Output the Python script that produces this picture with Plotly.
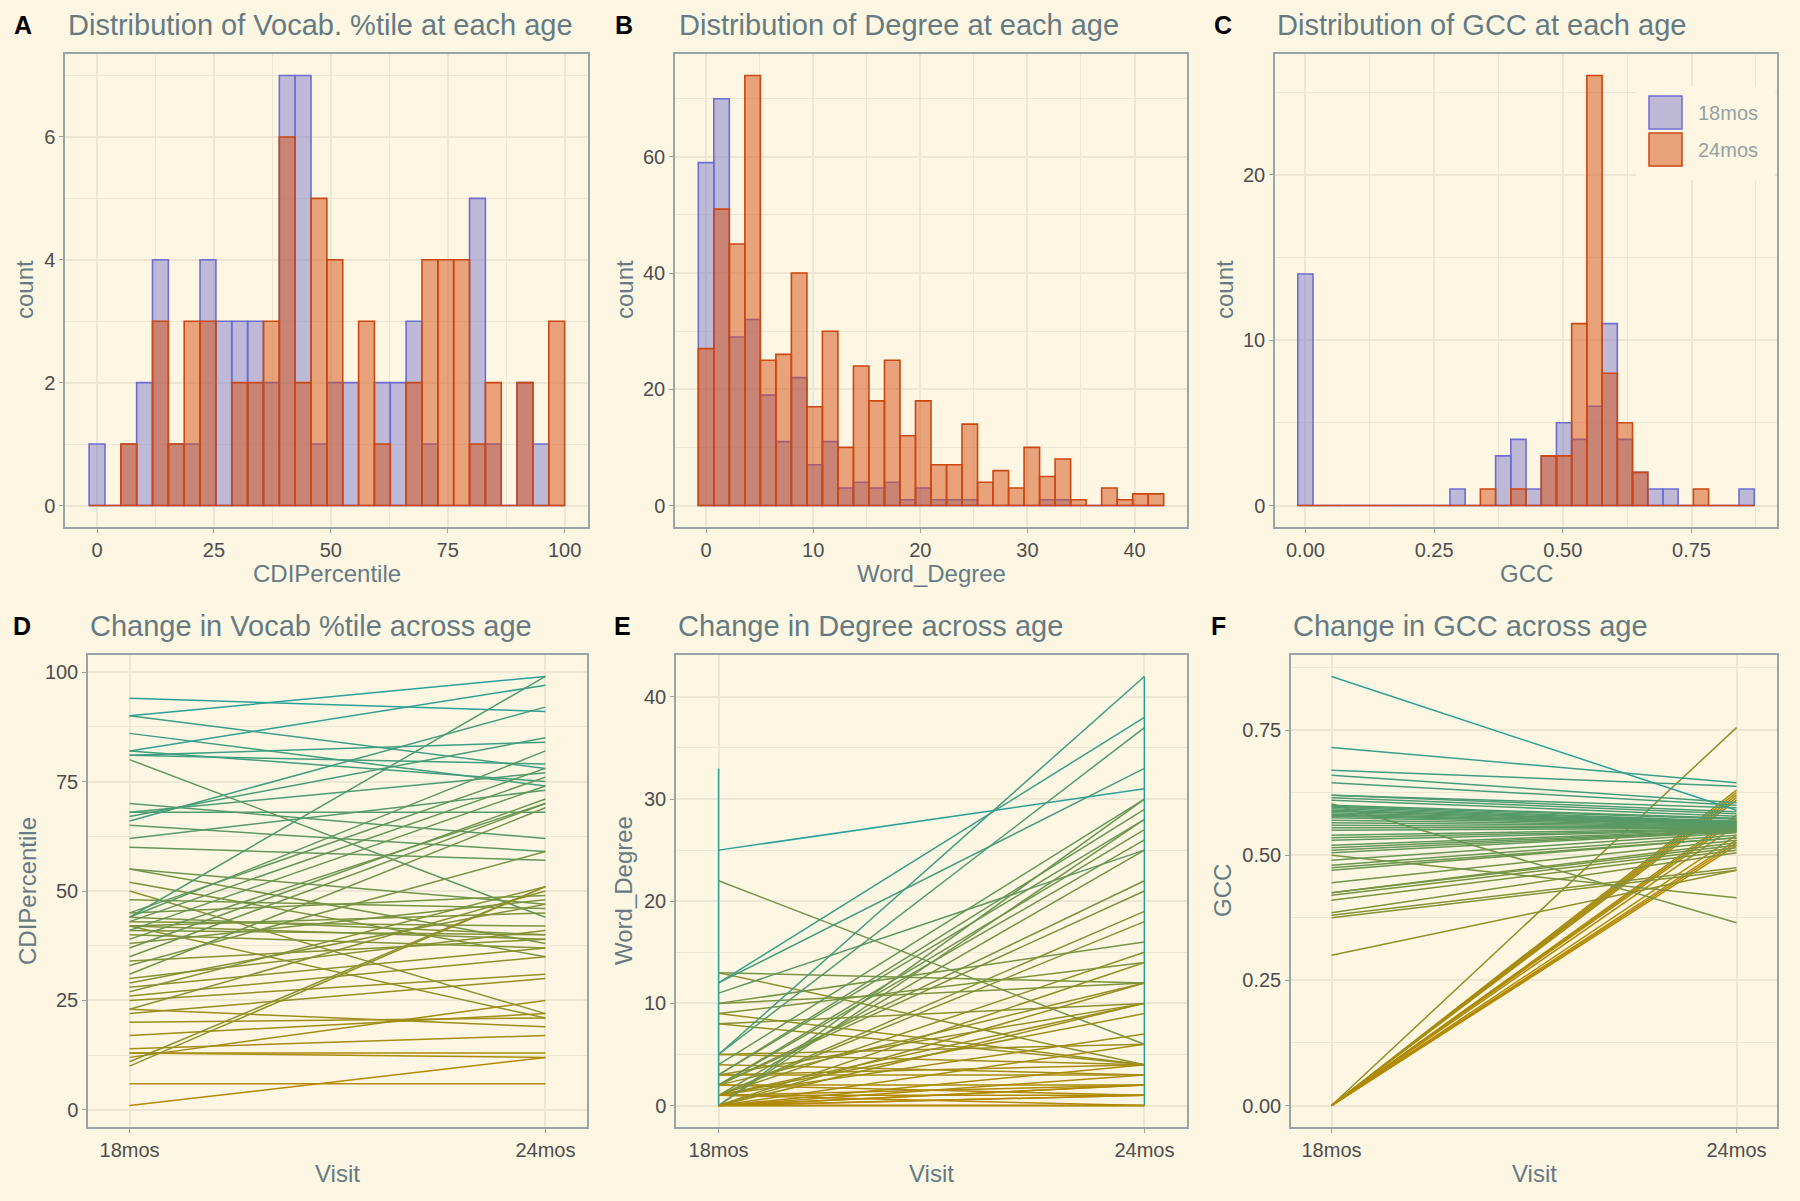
import plotly.graph_objects as go
from plotly.colors import sample_colorscale

W, H = 1800, 1201
BG = "#fdf6e3"
GRID = "#ede6d2"
BORDER = "#98a5a5"
TITLE_C = "#657b83"
TICK_C = "#4d4d4d"
LEGEND_C = "#93a1a1"
LOW, HIGH = "#b58900", "#2aa198"
BLUE_FILL, BLUE_LINE = "rgba(110,110,200,0.45)", "#6e6ed2"
ORANGE_FILL, ORANGE_LINE = "rgba(213,80,20,0.5)", "#cc4712"
FONT = "Liberation Sans, Arial, sans-serif"

ages = ["18mos", "24mos"]

# --- histogram counts (30 bins each) ---
cdi_bin_width = 3.39
cdi_counts_18 = [1, 0, 1, 2, 4, 1, 1, 4, 3, 3, 3, 2, 7, 7, 1, 2, 2, 0, 2, 2, 3, 1, 0, 0, 5, 1, 0, 2, 1, 0]
cdi_counts_24 = [0, 0, 1, 0, 3, 1, 3, 3, 0, 2, 2, 3, 6, 2, 5, 4, 0, 3, 1, 0, 2, 4, 4, 4, 1, 2, 0, 2, 0, 3]

deg_bin_width = 42 / 29
deg_counts_18 = [59, 70, 29, 32, 19, 11, 22, 7, 11, 3, 4, 3, 4, 1, 3, 1, 1, 1, 0, 0, 0, 0, 1, 1, 0, 0, 0, 0, 0, 0]
deg_counts_24 = [27, 51, 45, 74, 25, 26, 40, 17, 30, 10, 24, 18, 25, 12, 18, 7, 7, 14, 4, 6, 3, 10, 5, 8, 1, 0, 3, 1, 2, 2]

gcc_bin_width = 0.857 / 29
gcc_counts_18 = [14, 0, 0, 0, 0, 0, 0, 0, 0, 0, 1, 0, 0, 3, 4, 1, 3, 5, 4, 6, 11, 4, 2, 1, 1, 0, 0, 0, 0, 1]
gcc_counts_24 = [0, 0, 0, 0, 0, 0, 0, 0, 0, 0, 0, 0, 1, 0, 1, 0, 3, 3, 11, 26, 8, 5, 2, 0, 0, 0, 1, 0, 0, 0]

# --- paired values per child (18mos, 24mos) ---
cdi_18 = [94, 90, 90, 86, 82, 82, 81, 81, 80, 70, 68, 68, 67, 66, 65, 62, 60, 55, 55, 52,
          50, 48, 45, 45, 44, 44, 44, 43, 43, 42, 42, 42, 41, 41, 40, 39, 38, 37, 35, 34,
          33, 31, 30, 29, 28, 27, 26, 25, 23, 23, 22, 20, 17, 14, 13, 13, 12, 11, 10, 6, 1]
cdi_24 = [91, 99, 78, 74, 97, 75, 84, 79, 44, 62, 68, 77, 85, 92, 59, 73, 57, 38, 47, 35,
          22, 46, 78, 49, 99, 40, 82, 76, 42, 39, 21, 45, 40, 74, 37, 70, 48, 71, 70, 39,
          59, 69, 41, 47, 37, 51, 35, 31, 50, 19, 30, 21, 22, 17, 12, 13, 25, 51, 51, 6, 12]

deg_18 = [25, 22, 13, 13, 12, 12, 11, 10, 10, 9, 9, 8, 8, 5, 5, 5, 5, 4, 4, 3,
          3, 3, 3, 3, 2, 2, 2, 2, 2, 2, 2, 1, 1, 1, 1, 1, 1, 1, 1, 1,
          1, 0, 0, 0, 0, 0, 0, 0, 0, 0, 0, 0, 0, 0, 0, 0]
deg_24 = [31, 6, 4, 12, 38, 33, 25, 16, 12, 14, 4, 4, 10, 42, 37, 4, 6, 30, 3, 29,
          28, 3, 4, 10, 27, 26, 22, 21, 12, 1, 2, 25, 19, 18, 15, 10, 9, 7, 2, 1,
          0, 30, 28, 14, 12, 10, 6, 4, 3, 2, 2, 1, 1, 0, 0, 0]
deg_span_18 = [0, 33]
deg_span_24 = [0, 42]

gcc_18 = [0, 0, 0, 0, 0, 0, 0, 0, 0, 0, 0, 0, 0, 0,
          0.857, 0.715, 0.67, 0.66, 0.645, 0.62, 0.62, 0.615, 0.61, 0.603,
          0.60, 0.598, 0.596, 0.593, 0.59, 0.588, 0.585, 0.582, 0.58, 0.578,
          0.575, 0.57, 0.565, 0.56, 0.555, 0.55, 0.54, 0.535, 0.53, 0.52,
          0.515, 0.51, 0.505, 0.50, 0.49, 0.48, 0.475, 0.47, 0.445, 0.425,
          0.425, 0.42, 0.41, 0.385, 0.38, 0.375, 0.30]
gcc_24 = [0.755, 0.63, 0.625, 0.62, 0.615, 0.61, 0.58, 0.575, 0.57, 0.56, 0.54, 0.53, 0.525, 0.52,
          0.59, 0.645, 0.638, 0.605, 0.60, 0.595, 0.587, 0.583, 0.578, 0.365,
          0.574, 0.572, 0.568, 0.567, 0.566, 0.565, 0.564, 0.563, 0.562, 0.561,
          0.559, 0.558, 0.557, 0.556, 0.555, 0.554, 0.553, 0.552, 0.551, 0.55,
          0.549, 0.548, 0.547, 0.415, 0.545, 0.54, 0.535, 0.535, 0.53, 0.525,
          0.52, 0.515, 0.51, 0.505, 0.475, 0.47, 0.47]


def px(x):
    return x / W


def py(y):
    return 1 - y / H


def tones(a, b):
    m = [(u + v) / 2 for u, v in zip(a, b)]
    lo, hi = min(m), max(m)
    return sample_colorscale([[0, LOW], [1, HIGH]], [(v - lo) / (hi - lo) for v in m])


fig = go.Figure()


def add_hist(counts18, counts24, width, ax):
    centers = [i * width for i in range(len(counts18))]
    for counts, fill, line in [(counts18, BLUE_FILL, BLUE_LINE), (counts24, ORANGE_FILL, ORANGE_LINE)]:
        fig.add_trace(go.Bar(x=centers, y=counts, width=width, xaxis="x" + ax, yaxis="y" + ax,
                             marker=dict(color=fill, line=dict(color=line, width=1.6)),
                             showlegend=False, hoverinfo="skip"))


def add_lines(a, b, ax):
    for u, v, c in zip(a, b, tones(a, b)):
        fig.add_trace(go.Scatter(x=ages, y=[u, v], mode="lines", xaxis="x" + ax, yaxis="y" + ax,
                                 line=dict(color=c, width=1.5), showlegend=False, hoverinfo="skip"))


add_hist(cdi_counts_18, cdi_counts_24, cdi_bin_width, "")
add_hist(deg_counts_18, deg_counts_24, deg_bin_width, "2")
add_hist(gcc_counts_18, gcc_counts_24, gcc_bin_width, "3")
add_lines(cdi_18, cdi_24, "4")
add_lines(deg_18, deg_24, "5")
fig.add_trace(go.Scatter(x=[ages[0], ages[0], None, ages[1], ages[1]],
                         y=[deg_span_18[0], deg_span_18[1], None, deg_span_24[0], deg_span_24[1]],
                         mode="lines", xaxis="x5", yaxis="y5", line=dict(color=HIGH, width=1.5),
                         showlegend=False, hoverinfo="skip"))
add_lines(gcc_18, gcc_24, "6")


def axis(dom, rng, vals, texts, minor, anchor, cat=False):
    d = dict(domain=dom, anchor=anchor, showgrid=True, gridcolor=GRID, gridwidth=1.6,
             showline=True, mirror=True, linecolor=BORDER, linewidth=1.5,
             ticks="outside", ticklen=4, tickcolor=BORDER, tickwidth=1.2,
             tickfont=dict(size=20, color=TICK_C, family=FONT), zeroline=False, fixedrange=True)
    if cat:
        d.update(type="category", categoryorder="array", categoryarray=ages, range=rng)
    else:
        d.update(range=rng, tickmode="array", tickvals=vals, ticktext=texts,
                 minor=dict(tickvals=minor, showgrid=True, gridcolor=GRID, gridwidth=0.9, ticks=""))
    return d


top = [py(527), py(54)]
bot = [py(1127), py(655)]
dA, dB, dC = [px(65), px(588)], [px(675), px(1187)], [px(1275), px(1777)]
dD, dE, dF = [px(88), px(587)], [px(676), px(1187)], [px(1291), px(1777)]

fig.update_layout(
    width=W, height=H, margin=dict(l=0, r=0, t=0, b=0),
    paper_bgcolor=BG, plot_bgcolor=BG, barmode="overlay", showlegend=False,
    font=dict(family=FONT),
    xaxis=axis(dA, [-6.85, 105.0], [0, 25, 50, 75, 100], ["0", "25", "50", "75", "100"], [12.5, 37.5, 62.5, 87.5], "y"),
    yaxis=axis(top, [-0.35, 7.35], [0, 2, 4, 6], ["0", "2", "4", "6"], [1, 3, 5, 7], "x"),
    xaxis2=axis(dB, [-2.9, 44.9], [0, 10, 20, 30, 40], ["0", "10", "20", "30", "40"], [5, 15, 25, 35], "y2"),
    yaxis2=axis(top, [-3.7, 77.7], [0, 20, 40, 60], ["0", "20", "40", "60"], [10, 30, 50, 70], "x2"),
    xaxis3=axis(dC, [-0.0591, 0.916], [0, 0.25, 0.5, 0.75], ["0.00", "0.25", "0.50", "0.75"], [0.125, 0.375, 0.625, 0.875], "y3"),
    yaxis3=axis(top, [-1.3, 27.3], [0, 10, 20], ["0", "10", "20"], [5, 15, 25], "x3"),
    xaxis4=axis(dD, [-0.1, 1.1], None, None, None, "y4", cat=True),
    yaxis4=axis(bot, [-3.9, 103.9], [0, 25, 50, 75, 100], ["0", "25", "50", "75", "100"], [12.5, 37.5, 62.5, 87.5], "x4"),
    xaxis5=axis(dE, [-0.1, 1.1], None, None, None, "y5", cat=True),
    yaxis5=axis(bot, [-2.1, 44.1], [0, 10, 20, 30, 40], ["0", "10", "20", "30", "40"], [5, 15, 25, 35], "x5"),
    xaxis6=axis(dF, [-0.1, 1.1], None, None, None, "y6", cat=True),
    yaxis6=axis(bot, [-0.0429, 0.9], [0, 0.25, 0.5, 0.75], ["0.00", "0.25", "0.50", "0.75"], [0.125, 0.375, 0.625, 0.875], "x6"),
)

ann = []


def text(x, y, s, size, color, anchor="left", angle=0, bold=False):
    ann.append(dict(x=px(x), y=py(y), xref="paper", yref="paper", text="<b>%s</b>" % s if bold else s,
                    showarrow=False, xanchor=anchor, yanchor="middle", textangle=angle,
                    font=dict(size=size, color=color, family=FONT)))


panels = [
    ("A", 12, 66, 25, "Distribution of Vocab. %tile at each age", "CDIPercentile", "count", 24, dA, 573),
    ("B", 613, 677, 25, "Distribution of Degree at each age", "Word_Degree", "count", 624, dB, 573),
    ("C", 1212, 1275, 25, "Distribution of GCC at each age", "GCC", "count", 1224, dC, 573),
    ("D", 11, 88, 626, "Change in Vocab %tile across age", "Visit", "CDIPercentile", 27, dD, 1173),
    ("E", 612, 676, 626, "Change in Degree across age", "Visit", "Word_Degree", 623, dE, 1173),
    ("F", 1209, 1291, 626, "Change in GCC across age", "Visit", "GCC", 1222, dF, 1173),
]
for letter, lx, tx, ty, title, xt, yt, yx, dom, xty in panels:
    text(lx, ty, letter, 25, "black", bold=True)
    text(tx, ty, title, 29, TITLE_C)
    text((dom[0] + dom[1]) / 2 * W, xty, xt, 24, TITLE_C, anchor="center")
    ymid = 290 if ty < 100 else 891
    text(yx, ymid, yt, 24, TITLE_C, anchor="center", angle=-90)

# legend for panel C
shapes = [dict(type="rect", xref="paper", yref="paper", x0=px(1636), x1=px(1775), y0=py(180), y1=py(86),
               fillcolor=BG, line=dict(width=0), layer="above")]
for (y0, y1), fill, line, lab in [((96, 129), BLUE_FILL, BLUE_LINE, "18mos"),
                                  ((133, 166), ORANGE_FILL, ORANGE_LINE, "24mos")]:
    shapes.append(dict(type="rect", xref="paper", yref="paper", x0=px(1649), x1=px(1682),
                       y0=py(y1), y1=py(y0), fillcolor=fill, line=dict(color=line, width=1.5), layer="above"))
    text(1696, (y0 + y1) / 2, lab, 20, LEGEND_C)

fig.update_layout(annotations=ann, shapes=shapes)
fig.write_html("out.html", config={"displayModeBar": False},
               post_script="document.body.style.margin='0';"
                           "document.body.style.overflow='hidden';"
                           "document.body.style.background='%s';" % BG)
